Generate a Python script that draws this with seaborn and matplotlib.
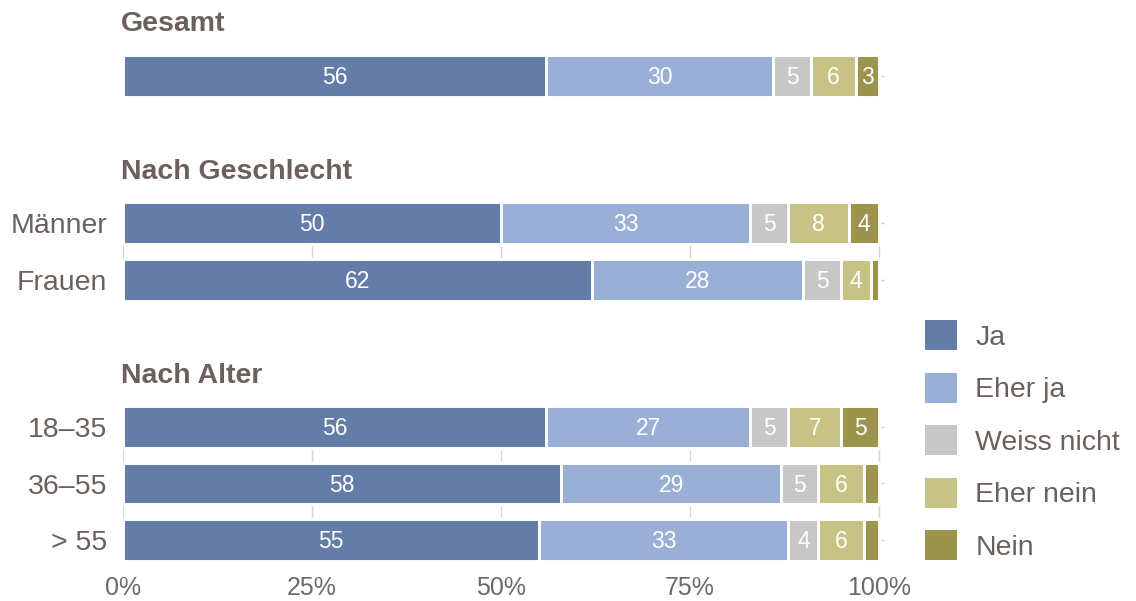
import matplotlib
matplotlib.use("Agg")
import matplotlib.pyplot as plt
import matplotlib.patches as mpatches
import seaborn as sns
import pandas as pd

# ------------------------------
# Data
# ------------------------------
answers = ["Ja", "Eher ja", "Weiss nicht", "Eher nein", "Nein"]
colors = ["#647ca8", "#9aafd6", "#c7c7c7", "#c7c285", "#9c944d"]

panel_titles = ["Gesamt", "Nach Geschlecht", "Nach Alter"]
panel = ["Gesamt", "Nach Geschlecht", "Nach Geschlecht",
         "Nach Alter", "Nach Alter", "Nach Alter"]
gruppe = ["Gesamt", "Männer", "Frauen", "18–35", "36–55", "> 55"]

ja = [56, 50, 62, 56, 58, 55]
eher_ja = [30, 33, 28, 27, 29, 33]
weiss_nicht = [5, 5, 5, 5, 5, 4]
eher_nein = [6, 8, 4, 7, 6, 6]
nein = [3, 4, 1, 5, 2, 2]

df = pd.DataFrame({
    "panel": panel, "gruppe": gruppe,
    "Ja": ja, "Eher ja": eher_ja, "Weiss nicht": weiss_nicht,
    "Eher nein": eher_nein, "Nein": nein,
})

# ------------------------------
# Style
# ------------------------------
sns.set_style("white")
plt.rcParams["font.family"] = ["Liberation Sans", "DejaVu Sans"]
text_col = "#6b605c"
grid_col = "#d6d6d6"

W, H = 1136, 601
fig = plt.figure(figsize=(W / 100, H / 100), dpi=100)


def px_axes(left, top, right, bottom):
    return fig.add_axes([left / W, 1 - bottom / H, (right - left) / W, (bottom - top) / H])


# panel boxes in pixels (left, top, right, bottom) and title centre y
boxes = [(123, 55, 885, 97), (123, 202, 885, 301), (123, 406, 885, 561)]
title_y = [24, 172, 376]
bar_w = 0.74

for k, (title, box) in enumerate(zip(panel_titles, boxes)):
    ax = px_axes(*box)
    sub = df[df["panel"] == title].reset_index(drop=True)
    cum = sub[answers].cumsum(axis=1)

    # stacked bars: draw cumulative totals from largest to smallest
    for ans, col in reversed(list(zip(answers, colors))):
        sns.barplot(x=cum[ans], y=sub["gruppe"], orient="h", color=col,
                    saturation=1, width=bar_w, edgecolor="white",
                    linewidth=2.1, errorbar=None, ax=ax)

    # value labels
    for i in range(len(sub)):
        for ans in answers:
            v = sub.loc[i, ans]
            if v >= 3:
                ax.text(cum.loc[i, ans] - v / 2, i + 0.03, str(v), color="white",
                        fontsize=16.5, ha="center", va="center")

    n = len(sub)
    ax.set_xlim(0, 100.8)
    ax.set_ylim(n - 1 + bar_w / 2, -bar_w / 2)
    ax.set_xticks([0, 25, 50, 75, 100])
    ax.set_axisbelow(True)
    ax.grid(True, color=grid_col, linewidth=1)
    for s in ax.spines.values():
        s.set_visible(False)
    ax.set_xlabel("")
    ax.set_ylabel("")
    ax.tick_params(length=0)
    ax.tick_params(axis="y", labelsize=20.5, labelcolor=text_col, pad=11.5)

    if title == "Gesamt":
        ax.tick_params(axis="y", labelleft=False)

    if k == len(panel_titles) - 1:
        ax.set_xticklabels(["0%", "25%", "50%", "75%", "100%"])
        ax.tick_params(axis="x", labelsize=18, labelcolor="#6a6a6a", pad=11)
    else:
        ax.tick_params(axis="x", labelbottom=False)

    fig.text(121 / W, 1 - title_y[k] / H, title, fontsize=20.5,
             fontweight="bold", color=text_col, ha="left", va="center")

# ------------------------------
# Legend
# ------------------------------
handles = [mpatches.Patch(facecolor=c, edgecolor="none") for c in colors]
fig.legend(handles, answers, loc="upper left",
           bbox_to_anchor=(925 / W, 1 - 320 / H), frameon=False,
           fontsize=20.5, labelcolor=text_col, handlelength=1.12,
           handleheight=1.25, handletextpad=0.65, labelspacing=0.77,
           borderpad=0, borderaxespad=0)

fig.savefig("out.png", dpi=100)
